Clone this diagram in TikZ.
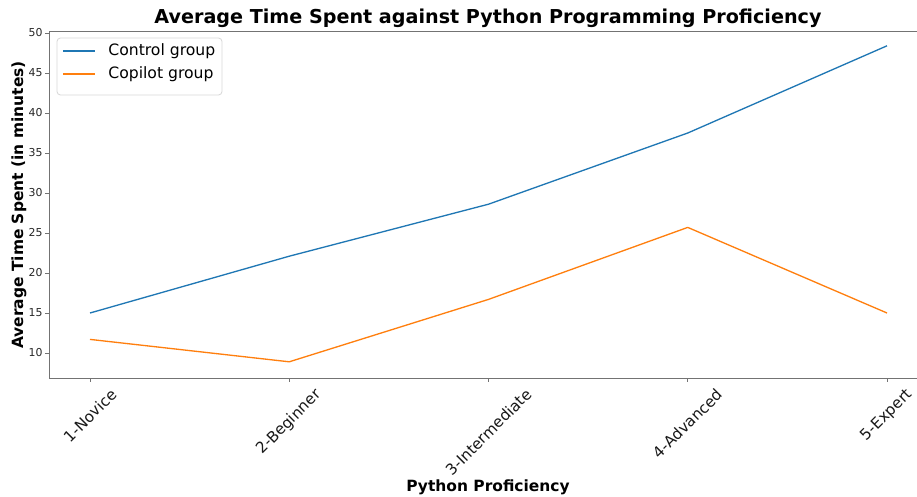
\documentclass[tikz,border=0pt]{standalone}
\usepackage{fontspec}
\setmainfont{DejaVu Sans}
\usepackage{graphicx}
\usetikzlibrary{positioning}
\definecolor{ctrlblue}{HTML}{1F77B4}
\definecolor{copiorange}{HTML}{FF7F0E}

\begin{document}
\begin{tikzpicture}[x=0.02cm,y=-0.02cm,
    spine/.style={draw=black!55,line width=0.5pt},
    tickmark/.style={draw=black!55,line width=0.5pt},
    ticklabel/.style={font=\fontsize{6.2}{7}\selectfont,text=black!85,inner sep=0pt},
    catlabel/.style={font=\fontsize{8.7}{10}\selectfont,text=black!90,inner sep=0pt,anchor=north},
    series/.style={line width=0.75pt,line join=round},
    axislabel/.style={font=\bfseries\fontsize{8.8}{10}\selectfont},
    legendbox/.style={draw=black!15,fill=white,rounded corners=2pt,line width=0.5pt},
    legendtext/.style={font=\fontsize{8.9}{10}\selectfont,anchor=west,inner sep=0pt}]
  \useasboundingbox[fill=white] (0,0) rectangle (917,497);
  % axes frame (right edge lies just outside)
  \coordinate (tl) at (49,31);
  \coordinate (bl) at (49,378);
  \coordinate (tr) at (920,31);
  \coordinate (br) at (920,378);
  \draw[spine] (tr) -- (tl) -- (bl) -- (br);
  % y ticks
  \foreach \v in {10,15,...,50}{
    \coordinate (yt\v) at (49,{33+(50-\v)*8});
    \draw[tickmark] (yt\v) -- ++(-4,0) node[ticklabel,anchor=east,xshift=-1.2pt] (ylab\v) {\v};
  }
  % x ticks and category labels
  \foreach \i/\name in {1/1-Novice,2/2-Beginner,3/3-Intermediate,4/4-Advanced,5/5-Expert}{
    \coordinate (xt\i) at ({90+(\i-1)*199.25},378);
    \draw[tickmark] (xt\i) -- ++(0,4);
    \node[catlabel] (cat\i) at ({90+(\i-1)*199.25},387) {\rotatebox{45}{\name}};
  }
  % data
  \foreach \i/\v in {1/15.0,2/22.1,3/28.6,4/37.5,5/48.4}
    \coordinate (ctrl\i) at ({90+(\i-1)*199.25},{33+(50-\v)*8});
  \foreach \i/\v in {1/11.7,2/8.9,3/16.7,4/25.7,5/15.0}
    \coordinate (copi\i) at ({90+(\i-1)*199.25},{33+(50-\v)*8});
  \draw[series,ctrlblue] (ctrl1) -- (ctrl2) -- (ctrl3) -- (ctrl4) -- (ctrl5);
  \draw[series,copiorange] (copi1) -- (copi2) -- (copi3) -- (copi4) -- (copi5);
  % legend
  \draw[legendbox] (57,38) rectangle (222,95);
  \coordinate (lc1) at (63,51);
  \coordinate (lc2) at (95,51);
  \coordinate (lo1) at (63,74);
  \coordinate (lo2) at (95,74);
  \draw[series,ctrlblue] (lc1) -- (lc2);
  \draw[series,copiorange] (lo1) -- (lo2);
  \node[legendtext] (legctrl) at (108,51) {Control group};
  \node[legendtext] (legcopi) at (108,74) {Copilot group};
  % titles
  \node[font=\bfseries\fontsize{10.9}{12}\selectfont] (title) at (488,18)
    {Average Time Spent against Python Programming Proficiency};
  \node[axislabel] (xlabel) at (488,487) {Python Proficiency};
  \node[axislabel,rotate=90] (ylabel) at (19,205) {Average Time Spent (in minutes)};
\end{tikzpicture}
\end{document}
